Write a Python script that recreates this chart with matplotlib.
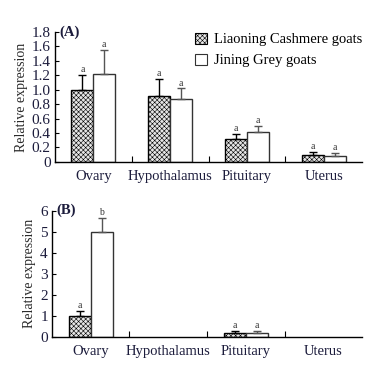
"""Relative expression in two goat breeds, panels A and B."""
import matplotlib
matplotlib.use('Agg')
import matplotlib.pyplot as plt
import numpy as np
from matplotlib.patches import Patch

plt.rcParams['font.family'] = ['Liberation Serif', 'DejaVu Serif']
plt.rcParams['hatch.linewidth'] = 0.4
plt.rcParams['hatch.color'] = '#808080'

tissues = ['Ovary', 'Hypothalamus', 'Pituitary', 'Uterus']
series = ['Liaoning Cashmere goats', 'Jining Grey goats']

# panel A
a_lc = [1.00, 0.91, 0.31, 0.10]
a_lc_err = [0.21, 0.24, 0.08, 0.04]
a_jg = [1.22, 0.87, 0.42, 0.08]
a_jg_err = [0.33, 0.15, 0.08, 0.04]
a_lc_sig = ['a', 'a', 'a', 'a']
a_jg_sig = ['a', 'a', 'a', 'a']

# panel B (no bars for hypothalamus and uterus)
b_lc = [1.00, 0.0, 0.18, 0.0]
b_lc_err = [0.22, 0.0, 0.09, 0.0]
b_jg = [4.98, 0.0, 0.18, 0.0]
b_jg_err = [0.67, 0.0, 0.09, 0.0]
b_lc_sig = ['a', '', 'a', '']
b_jg_sig = ['b', '', 'a', '']

TICK_C = '#1c1c3c'
HATCH = 'xxxxxxx'
W = 0.285


def draw(ax, lc, lc_err, jg, jg_err, lc_sig, jg_sig, ymax, step, fmt, label, sig_off):
    x = np.arange(len(tissues)) + 0.5
    lc = np.array(lc)
    jg = np.array(jg)
    keep = (lc > 0)
    ax.bar(x[keep] - W / 2, lc[keep], W, facecolor='#e6e6e6', edgecolor='black',
           hatch=HATCH, linewidth=1.0)
    ax.bar(x[keep] + W / 2, jg[keep], W, facecolor='white', edgecolor='#333333',
           linewidth=1.0)
    for xi, v, e in zip(x[keep] - W / 2, lc[keep], np.array(lc_err)[keep]):
        ax.errorbar(xi, v, yerr=[[0], [e]], fmt='none', ecolor='black',
                    elinewidth=1.0, capsize=3, capthick=1.0)
    for xi, v, e in zip(x[keep] + W / 2, jg[keep], np.array(jg_err)[keep]):
        ax.errorbar(xi, v, yerr=[[0], [e]], fmt='none', ecolor='#555555',
                    elinewidth=1.0, capsize=3, capthick=1.0)
    for i in range(len(tissues)):
        if lc_sig[i]:
            ax.text(x[i] - W / 2, lc[i] + lc_err[i] + sig_off, lc_sig[i],
                    ha='center', va='bottom', fontsize=7, color='#333333')
        if jg_sig[i]:
            ax.text(x[i] + W / 2, jg[i] + jg_err[i] + sig_off, jg_sig[i],
                    ha='center', va='bottom', fontsize=7, color='#333333')

    ax.set_xlim(0, 4)
    ax.set_ylim(0, ymax)
    yt = np.arange(0, ymax + 1e-9, step)
    ax.set_yticks(yt)
    ax.set_yticklabels(['0'] + [fmt.format(v) for v in yt[1:]], color=TICK_C, fontsize=11)
    ax.set_xticks([1, 2, 3])
    ax.set_xticklabels([])
    ax.set_xticks(x, minor=True)
    ax.set_xticklabels(tissues, minor=True, fontsize=10.5, color=TICK_C)
    ax.tick_params(axis='x', which='major', direction='in', length=4, width=0.8)
    ax.tick_params(axis='x', which='minor', length=0, pad=6)
    ax.tick_params(axis='y', direction='in', length=3, width=0.8, pad=3)
    for s in ('top', 'right'):
        ax.spines[s].set_visible(False)
    for s in ('left', 'bottom'):
        ax.spines[s].set_linewidth(1.0)
    ax.set_ylabel('Relative expression', fontsize=10, color='#2a2a2a', labelpad=3)
    ax.text(0.06, ymax, label, ha='left', va='center', fontsize=10.5,
            fontweight='bold', color=TICK_C)


fig = plt.figure(figsize=(3.74, 3.72), dpi=100)
ax1 = fig.add_axes([0.147, 0.565, 0.821, 0.349])
ax2 = fig.add_axes([0.139, 0.094, 0.829, 0.340])

draw(ax1, a_lc, a_lc_err, a_jg, a_jg_err, a_lc_sig, a_jg_sig, 1.8, 0.2, '{:.1f}', '(A)', 0.01)
draw(ax2, b_lc, b_lc_err, b_jg, b_jg_err, b_lc_sig, b_jg_sig, 6, 1, '{:.0f}', '(B)', 0.05)

handles = [Patch(facecolor='#e6e6e6', edgecolor='black', hatch=HATCH, linewidth=0.8),
           Patch(facecolor='white', edgecolor='#333333', linewidth=0.8)]
ax1.legend(handles, series, loc='upper right', bbox_to_anchor=(1.02, 1.04),
           frameon=False, fontsize=10.5, handlelength=0.8, handleheight=0.8,
           handletextpad=0.5, labelspacing=0.5, borderaxespad=0)

fig.savefig('out.png', dpi=100)
